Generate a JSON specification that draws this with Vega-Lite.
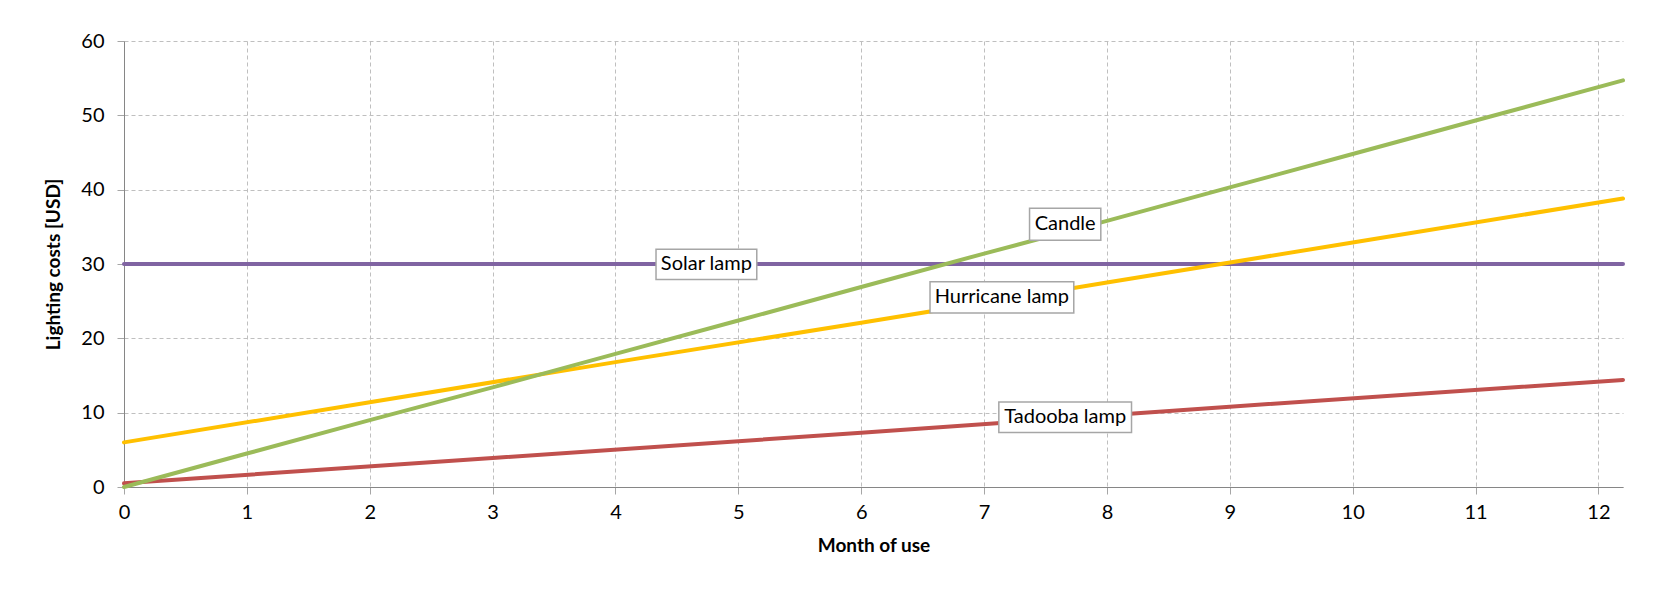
{
  "$schema": "https://vega.github.io/schema/vega-lite/v6.json",
  "width": 1499,
  "height": 446,
  "autosize": {"type": "none"},
  "padding": {"left": 124, "top": 41, "right": 41, "bottom": 107},
  "background": "white",
  "config": {"view": {"stroke": null}, "font": "Lato"},
  "datasets": {
    "lines": [
      {"series": "Solar lamp", "month": 0, "cost": 30},
      {"series": "Solar lamp", "month": 12.2, "cost": 30},
      {"series": "Tadooba lamp", "month": 0, "cost": 0.5},
      {"series": "Tadooba lamp", "month": 3, "cost": 3.9},
      {"series": "Tadooba lamp", "month": 6, "cost": 7.3},
      {"series": "Tadooba lamp", "month": 9, "cost": 10.8},
      {"series": "Tadooba lamp", "month": 12.2, "cost": 14.4},
      {"series": "Hurricane lamp", "month": 0, "cost": 6},
      {"series": "Hurricane lamp", "month": 2, "cost": 11.4},
      {"series": "Hurricane lamp", "month": 4, "cost": 16.8},
      {"series": "Hurricane lamp", "month": 6, "cost": 22.1},
      {"series": "Hurricane lamp", "month": 8, "cost": 27.5},
      {"series": "Hurricane lamp", "month": 10, "cost": 32.9},
      {"series": "Hurricane lamp", "month": 12.2, "cost": 38.8},
      {"series": "Candle", "month": 0, "cost": 0},
      {"series": "Candle", "month": 1, "cost": 4.5},
      {"series": "Candle", "month": 2, "cost": 9.0},
      {"series": "Candle", "month": 3, "cost": 13.4},
      {"series": "Candle", "month": 4, "cost": 17.9},
      {"series": "Candle", "month": 5, "cost": 22.4},
      {"series": "Candle", "month": 6, "cost": 26.9},
      {"series": "Candle", "month": 7, "cost": 31.4},
      {"series": "Candle", "month": 8, "cost": 35.8},
      {"series": "Candle", "month": 9, "cost": 40.3},
      {"series": "Candle", "month": 10, "cost": 44.8},
      {"series": "Candle", "month": 11, "cost": 49.3},
      {"series": "Candle", "month": 12.2, "cost": 54.7}
    ],
    "labels": [
      {"label": "Solar lamp", "x1": 4.33, "x2": 5.15, "y1": 27.9, "y2": 32.0, "xc": 4.74, "yc": 29.95},
      {"label": "Candle", "x1": 7.37, "x2": 7.95, "y1": 33.2, "y2": 37.5, "xc": 7.66, "yc": 35.35},
      {"label": "Hurricane lamp", "x1": 6.56, "x2": 7.73, "y1": 23.4, "y2": 27.6, "xc": 7.145, "yc": 25.5},
      {"label": "Tadooba lamp", "x1": 7.12, "x2": 8.2, "y1": 7.32, "y2": 11.44, "xc": 7.66, "yc": 9.38}
    ]
  },
  "layer": [
    {
      "data": {"name": "lines"},
      "mark": {"type": "line", "strokeWidth": 4, "strokeCap": "round"},
      "encoding": {
        "x": {
          "field": "month", "type": "quantitative",
          "scale": {"domain": [0, 12.2], "nice": false, "zero": false},
          "axis": {
            "values": [0,1,2,3,4,5,6,7,8,9,10,11,12], "format": "d",
            "labelFlush": false, "labelOverlap": false,
            "labelFontSize": 20, "labelColor": "#000000", "labelPadding": 8,
            "tickSize": 7, "tickColor": "#a6a6a6",
            "domainColor": "#868686", "domainWidth": 1,
            "grid": true, "gridDash": [4, 3], "gridColor": "#bfbfbf",
            "title": "Month of use", "titleFontSize": 19, "titleFontWeight": "bold",
            "titleColor": "#000000", "titleBaseline": "middle", "titleY": 58
          }
        },
        "y": {
          "field": "cost", "type": "quantitative",
          "scale": {"domain": [0, 60], "nice": false},
          "axis": {
            "values": [0,10,20,30,40,50,60],
            "labelFlush": false, "labelOverlap": false,
            "labelFontSize": 20, "labelColor": "#000000", "labelPadding": 13,
            "tickSize": 7, "tickColor": "#a6a6a6",
            "domainColor": "#868686", "domainWidth": 1,
            "grid": true, "gridDash": [4, 3], "gridColor": "#bfbfbf",
            "title": "Lighting costs [USD]", "titleFontSize": 19, "titleFontWeight": "bold",
            "titleColor": "#000000", "titleAngle": 270, "titleAlign": "center",
            "titleBaseline": "middle", "titleX": -71, "titleY": 223
          }
        },
        "color": {
          "field": "series", "type": "nominal",
          "scale": {"domain": ["Solar lamp", "Tadooba lamp", "Hurricane lamp", "Candle"], "range": ["#8064A2", "#C0504D", "#FFC000", "#9BBB59"]},
          "legend": null
        }
      }
    },
    {
      "data": {"name": "labels"},
      "mark": {"type": "rect", "fill": "white", "stroke": "#a6a6a6", "strokeWidth": 1.5},
      "encoding": {
        "x": {"field": "x1", "type": "quantitative"},
        "x2": {"field": "x2"},
        "y": {"field": "y1", "type": "quantitative"},
        "y2": {"field": "y2"}
      }
    },
    {
      "data": {"name": "labels"},
      "mark": {"type": "text", "fontSize": 20, "color": "#000000", "align": "center", "baseline": "middle"},
      "encoding": {
        "x": {"field": "xc", "type": "quantitative"},
        "y": {"field": "yc", "type": "quantitative"},
        "text": {"field": "label"}
      }
    }
  ]
}
